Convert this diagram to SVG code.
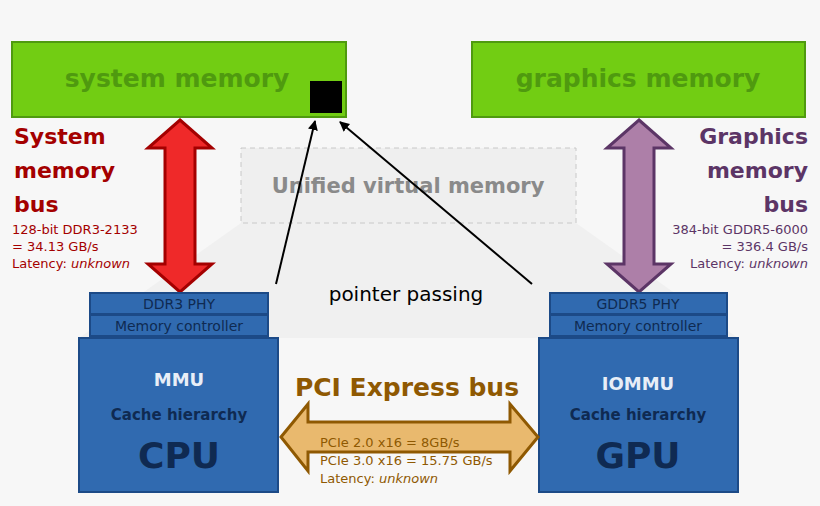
<svg xmlns="http://www.w3.org/2000/svg" width="820" height="506" viewBox="0 0 820 506">
<style>
.f{font-family:"DejaVu Sans",sans-serif}
.b{font-weight:bold}
.box{fill:#306ab0;stroke:#1c4a87;stroke-width:2}
.mem{fill:#72cd13;stroke:#4f9a0f;stroke-width:2}
</style>
<defs><marker id="ah" markerWidth="10" markerHeight="10" refX="9" refY="5" orient="auto" markerUnits="userSpaceOnUse"><path d="M0,0 L10,5 L0,10 z" fill="#000"/></marker></defs>
<rect width="820" height="506" fill="#f7f7f7"/>
<polygon points="241,223 576,223 738,338 79,338" fill="#f0f0f0"/>
<g id="uvm"><rect x="241" y="148" width="335" height="75" fill="#efefef" stroke="#c8c8c8" stroke-dasharray="5,4"/>
<text x="408" y="193" class="f b" font-size="21" fill="#8a8a8a" text-anchor="middle">Unified virtual memory</text></g>
<g id="sysmem"><rect class="mem" x="12" y="42" width="334" height="75"/>
<text x="177" y="87" class="f b" font-size="25" fill="#4f9a0f" text-anchor="middle">system memory</text>
<rect x="310" y="81" width="32" height="32" fill="#000"/></g>
<g id="gfxmem"><rect class="mem" x="472" y="42" width="333" height="75"/>
<text x="638" y="87" class="f b" font-size="25" fill="#4f9a0f" text-anchor="middle">graphics memory</text></g>
<g id="sysbus"><polygon points="180,120 212,148 195,148 195,264 212,264 180,292 148,264 165,264 165,148 148,148" fill="#ef2929" stroke="#a40000" stroke-width="3"/>
<text class="f b" font-size="22" fill="#a40000"><tspan x="14" y="144">System</tspan><tspan x="14" y="178">memory</tspan><tspan x="14" y="212">bus</tspan></text>
<text class="f" font-size="13" fill="#a40000"><tspan x="12" y="234">128-bit DDR3-2133</tspan><tspan x="12" y="251">= 34.13 GB/s</tspan><tspan x="12" y="268">Latency: <tspan font-style="italic">unknown</tspan></tspan></text></g>
<g id="gfxbus"><polygon points="639,120 671,148 654,148 654,264 671,264 639,292 607,264 624,264 624,148 607,148" fill="#ad7fa8" stroke="#5c3566" stroke-width="3"/>
<text class="f b" font-size="22" fill="#5c3566" text-anchor="end"><tspan x="808" y="144">Graphics</tspan><tspan x="808" y="178">memory</tspan><tspan x="808" y="212">bus</tspan></text>
<text class="f" font-size="13" fill="#5c3566" text-anchor="end"><tspan x="808" y="234">384-bit GDDR5-6000</tspan><tspan x="808" y="251">= 336.4 GB/s</tspan><tspan x="808" y="268">Latency: <tspan font-style="italic">unknown</tspan></tspan></text></g>
<g id="cpu"><rect class="box" x="90" y="293" width="178" height="21"/><rect class="box" x="90" y="315" width="178" height="21"/><rect class="box" x="79" y="338" width="199" height="154"/>
<g class="f" fill="#0f2a52" text-anchor="middle"><text x="179" y="309" font-size="14">DDR3 PHY</text><text x="179" y="331" font-size="14">Memory controller</text></g>
<g class="f b" fill="#e8eef7" text-anchor="middle"><text x="179" y="386" font-size="18">MMU</text></g>
<g class="f b" fill="#0f2a52" text-anchor="middle"><text x="179" y="420" font-size="15">Cache hierarchy</text><text x="179" y="468" font-size="36">CPU</text></g></g>
<g id="gpu"><rect class="box" x="550" y="293" width="177" height="21"/><rect class="box" x="550" y="315" width="177" height="21"/><rect class="box" x="539" y="338" width="199" height="154"/>
<g class="f" fill="#0f2a52" text-anchor="middle"><text x="638" y="309" font-size="14">GDDR5 PHY</text><text x="638" y="331" font-size="14">Memory controller</text></g>
<g class="f b" fill="#e8eef7" text-anchor="middle"><text x="638" y="390" font-size="18">IOMMU</text></g>
<g class="f b" fill="#0f2a52" text-anchor="middle"><text x="638" y="420" font-size="15">Cache hierarchy</text><text x="638" y="468" font-size="36">GPU</text></g></g>
<g id="pcie"><polygon points="281,437 308,404 308,422 510,422 510,404 538,437 510,471 510,452 308,452 308,471" fill="#e9b96e" stroke="#8f5902" stroke-width="3"/>
<text x="407" y="396" class="f b" font-size="25" fill="#8f5902" text-anchor="middle">PCI Express bus</text>
<text class="f" font-size="13" fill="#8f5902"><tspan x="320" y="447">PCIe 2.0 x16 = 8GB/s</tspan><tspan x="320" y="465">PCIe 3.0 x16 = 15.75 GB/s</tspan><tspan x="320" y="483">Latency: <tspan font-style="italic">unknown</tspan></tspan></text></g>
<g id="connectors" stroke="#000" stroke-width="2" fill="none">
<line x1="276" y1="284" x2="315" y2="121" marker-end="url(#ah)"/>
<line x1="532" y1="284" x2="340" y2="122" marker-end="url(#ah)"/>
</g>
<text x="406" y="301" class="f" font-size="20" fill="#000" text-anchor="middle">pointer passing</text>
</svg>
